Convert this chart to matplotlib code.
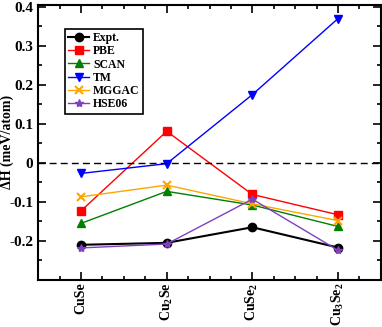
import numpy as np
import matplotlib
matplotlib.use("Agg")
import matplotlib.pyplot as plt
from matplotlib.ticker import MultipleLocator

plt.rcParams['font.family'] = ['Liberation Serif', 'DejaVu Serif']
plt.rcParams['font.weight'] = 'bold'
plt.rcParams['mathtext.fontset'] = 'custom'
plt.rcParams['mathtext.rm'] = 'Liberation Serif:bold'
plt.rcParams['mathtext.it'] = 'Liberation Serif:bold'
plt.rcParams['mathtext.bf'] = 'Liberation Serif:bold'

# -----------------------------
# Data
# -----------------------------
compounds = ["CuSe", "Cu$_2$Se", "CuSe$_2$", "Cu$_3$Se$_2$"]
expt = [-0.210, -0.205, -0.165, -0.217]
pbe = [-0.123, 0.081, -0.081, -0.133]
scan = [-0.155, -0.073, -0.108, -0.163]
tm = [-0.027, -0.002, 0.175, 0.370]
mggac = [-0.087, -0.057, -0.105, -0.148]
hse06 = [-0.218, -0.208, -0.093, -0.224]

series = [
    ("Expt.", expt, "black", "o"),
    ("PBE", pbe, "red", "s"),
    ("SCAN", scan, "green", "^"),
    ("TM", tm, "blue", "v"),
    ("MGGAC", mggac, "orange", "x"),
    ("HSE06", hse06, "#8040c0", "*"),
]

fig = plt.figure(figsize=(3.82, 3.27), dpi=100)
ax = fig.add_axes([0.100, 0.144, 0.897, 0.841])

x = np.arange(len(compounds))
for label, vals, color, marker in series:
    lw = 1.5 if label == "Expt." else 1.0
    ax.plot(x, vals, color=color, marker=marker, markersize=6,
            markeredgewidth=1.5 if marker == "x" else 1.0,
            linewidth=lw, label=label)

ax.axhline(0, color="black", linestyle=(0, (5, 3)), linewidth=1.0)

ax.set_xlim(-0.5, 3.5)
ax.set_ylim(-0.3, 0.405)
ax.set_xticks(x)
ax.set_xticklabels(compounds, rotation=90, fontsize=10, fontweight="bold")
ax.xaxis.set_minor_locator(MultipleLocator(0.25))
ax.yaxis.set_minor_locator(MultipleLocator(0.05))
ax.set_yticks([-0.2, -0.1, 0, 0.1, 0.2, 0.3, 0.4])
ax.set_yticklabels(["-0.2", "-0.1", "0", "0.1", "0.2", "0.3", "0.4"],
                   fontsize=11, fontweight="bold")
ax.tick_params(which="both", direction="in", top=True, right=True, width=1.2)
ax.tick_params(which="major", length=6)
ax.tick_params(which="minor", length=3)
ax.tick_params(axis="x", which="major", pad=2)
for sp in ax.spines.values():
    sp.set_linewidth(1.5)

ax.set_ylabel("ΔH (meV/atom)", fontsize=10, fontweight="bold")
ax.yaxis.set_label_coords(-0.072, 0.5)

leg = ax.legend(loc="upper left", bbox_to_anchor=(0.06, 0.935), fontsize=8.5,
                handlelength=1.8, handletextpad=0.3, labelspacing=0.1,
                borderpad=0.3, fancybox=False, framealpha=1, edgecolor="black")
leg.get_frame().set_linewidth(1.2)
for t in leg.get_texts():
    t.set_fontweight("bold")

fig.savefig("out.png", dpi=100)
